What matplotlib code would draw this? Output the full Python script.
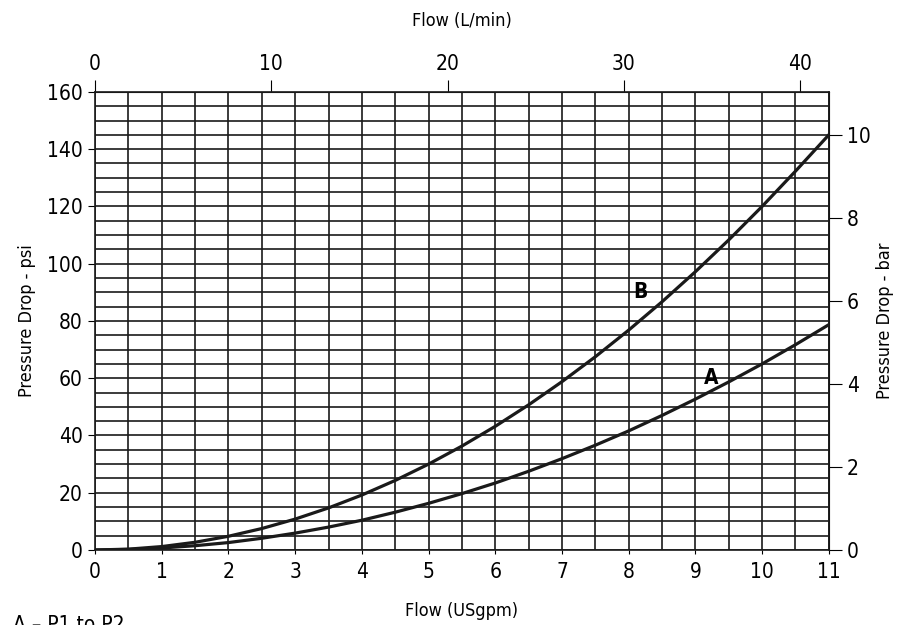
import numpy as np
import matplotlib
matplotlib.use("Agg")
import matplotlib.pyplot as plt

plt.rcParams['font.family'] = ['DejaVu Sans']
plt.rcParams['font.stretch'] = 'condensed'

# Flow in USgpm and pressure drop in psi
flow_gpm = [0, 0.5, 1, 1.5, 2, 2.5, 3, 3.5, 4, 4.5, 5, 5.5,
            6, 6.5, 7, 7.5, 8, 8.5, 9, 9.5, 10, 10.5, 11]
curve_a_psi = [0, 0.2, 0.7, 1.5, 2.6, 4.1, 5.9, 8.0, 10.4, 13.2, 16.3, 19.7,
               23.4, 27.5, 31.9, 36.6, 41.6, 47.0, 52.7, 58.7, 65.0, 71.7, 78.7]
curve_b_psi = [0, 0.3, 1.2, 2.7, 4.8, 7.5, 10.8, 14.7, 19.2, 24.3, 30.0, 36.3,
               43.2, 50.7, 58.8, 67.5, 76.8, 86.7, 97.2, 108.3, 120.0, 132.3, 145.0]

GPM_TO_LPM = 3.785
PSI_PER_BAR = 14.5038

fig = plt.figure(figsize=(8.97, 6.25), dpi=100)
ax = fig.add_axes([0.106, 0.12, 0.818, 0.733])

ax.plot(flow_gpm, curve_a_psi, color='#1a1a1a', lw=2.3)
ax.plot(flow_gpm, curve_b_psi, color='#1a1a1a', lw=2.3)

ax.text(8.18, 90, 'B', fontsize=15, fontweight='bold', ha='center', va='center')
ax.text(9.23, 60, 'A', fontsize=15, fontweight='bold', ha='center', va='center')

ax.set_xlim(0, 11)
ax.set_ylim(0, 160)
ax.set_xticks(range(0, 12))
ax.set_yticks(range(0, 161, 20))
ax.set_xticks(np.arange(0, 11.01, 0.5), minor=True)
ax.set_yticks(range(0, 161, 5), minor=True)
ax.grid(which='both', color='#1a1a1a', lw=1.2)
ax.set_axisbelow(True)
for s in ax.spines.values():
    s.set_color('#1a1a1a')
    s.set_linewidth(1.2)
ax.tick_params(which='minor', length=0)
ax.tick_params(axis='y', which='major', direction='out', length=5, labelsize=15, pad=4)
ax.tick_params(axis='x', which='major', direction='out', length=3, labelsize=15, pad=6)
ax.set_xlabel('Flow (USgpm)', fontsize=13, labelpad=14)
ax.set_ylabel('Pressure Drop - psi', fontsize=13, labelpad=8)

top = ax.secondary_xaxis('top', functions=(lambda g: g * GPM_TO_LPM, lambda l: l / GPM_TO_LPM))
top.set_xticks([0, 10, 20, 30, 40])
top.tick_params(direction='out', length=9, labelsize=15, pad=4)
top.set_xlabel('Flow (L/min)', fontsize=13, labelpad=20)

right = ax.secondary_yaxis('right', functions=(lambda p: p / PSI_PER_BAR, lambda b: b * PSI_PER_BAR))
right.set_yticks([0, 2, 4, 6, 8, 10])
right.tick_params(direction='out', length=9, labelsize=15, pad=4)
right.set_ylabel('Pressure Drop - bar', fontsize=13, labelpad=4)

fig.text(0.014, -0.010, 'A – P1 to P2', fontsize=15, va='baseline')

fig.savefig('out.png', dpi=100)
